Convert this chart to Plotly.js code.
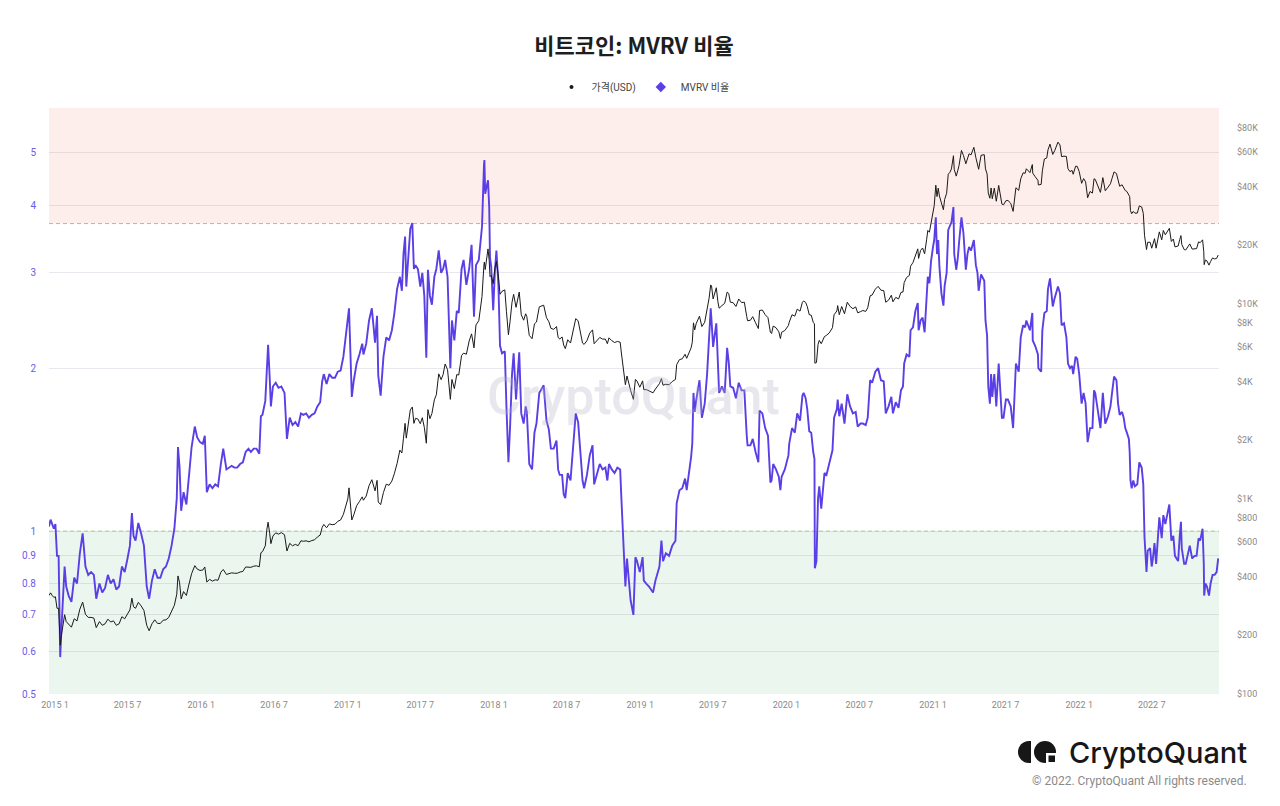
<!DOCTYPE html>
<html>
<head>
<meta charset="utf-8">
<script src="https://cdn.plot.ly/plotly-3.0.1.min.js"></script>
<style>
html,body{margin:0;padding:0;background:#fff;}
#chart{width:1280px;height:806px;}
</style>
</head>
<body>
<div id="chart"></div>
<script>
// ---------- DATA ----------
const dates = [
'2014-12-17','2014-12-21','2014-12-25','2014-12-29','2015-01-02','2015-01-06','2015-01-10','2015-01-14','2015-01-17','2015-01-21','2015-01-25','2015-01-29',
'2015-02-04','2015-02-11','2015-02-18','2015-02-25','2015-03-04','2015-03-11','2015-03-18','2015-03-25','2015-04-01','2015-04-08','2015-04-14','2015-04-22','2015-04-29',
'2015-05-06','2015-05-13','2015-05-20','2015-05-27','2015-06-03','2015-06-10','2015-06-17','2015-06-24','2015-07-01','2015-07-07','2015-07-12','2015-07-16','2015-07-21','2015-07-28',
'2015-08-04','2015-08-11','2015-08-18','2015-08-24','2015-08-31','2015-09-07','2015-09-14','2015-09-21','2015-09-28','2015-10-05','2015-10-12','2015-10-19','2015-10-26',
'2015-11-01','2015-11-04','2015-11-08','2015-11-12','2015-11-18','2015-11-25','2015-12-01','2015-12-08','2015-12-16','2015-12-22','2015-12-29',
'2016-01-05','2016-01-10','2016-01-15','2016-01-22','2016-01-29','2016-02-05','2016-02-12','2016-02-19','2016-02-25','2016-03-04','2016-03-10','2016-03-17','2016-03-24','2016-03-31',
'2016-04-07','2016-04-14','2016-04-21','2016-04-28','2016-05-04','2016-05-11','2016-05-18','2016-05-25','2016-05-29',
'2016-06-02','2016-06-09','2016-06-13','2016-06-16','2016-06-20','2016-06-23','2016-06-28','2016-07-05','2016-07-12','2016-07-19','2016-07-27',
'2016-08-02','2016-08-09','2016-08-16','2016-08-23','2016-08-30','2016-09-06','2016-09-12','2016-09-19','2016-09-26','2016-10-03','2016-10-10','2016-10-17','2016-10-24','2016-10-29',
'2016-11-02','2016-11-09','2016-11-16','2016-11-23','2016-11-30','2016-12-07','2016-12-14','2016-12-21','2016-12-27',
'2017-01-01','2017-01-04','2017-01-08','2017-01-11','2017-01-16','2017-01-23','2017-01-30','2017-02-06','2017-02-09','2017-02-16','2017-02-23',
'2017-03-02','2017-03-10','2017-03-15','2017-03-18','2017-03-24','2017-03-31','2017-04-07','2017-04-14','2017-04-21','2017-04-27',
'2017-05-04','2017-05-11','2017-05-16','2017-05-20','2017-05-24','2017-05-27','2017-06-01','2017-06-06','2017-06-11','2017-06-15','2017-06-19','2017-06-25',
'2017-07-01','2017-07-06','2017-07-11','2017-07-16','2017-07-20','2017-07-25','2017-07-30','2017-08-05','2017-08-10','2017-08-16','2017-08-22','2017-08-27',
'2017-09-01','2017-09-07','2017-09-14','2017-09-18','2017-09-24','2017-09-30','2017-10-05','2017-10-12','2017-10-17','2017-10-24','2017-10-31',
'2017-11-06','2017-11-12','2017-11-17','2017-11-24','2017-11-29','2017-12-02','2017-12-07','2017-12-08','2017-12-10','2017-12-13','2017-12-17','2017-12-20','2017-12-22','2017-12-25','2017-12-30',
'2018-01-03','2018-01-07','2018-01-12','2018-01-16','2018-01-21','2018-01-28','2018-02-01','2018-02-06','2018-02-10','2018-02-15','2018-02-19','2018-02-25',
'2018-03-05','2018-03-10','2018-03-16','2018-03-21','2018-03-24','2018-03-30','2018-04-06','2018-04-12','2018-04-17','2018-04-24','2018-05-05','2018-05-12','2018-05-18','2018-05-23','2018-05-30',
'2018-06-06','2018-06-10','2018-06-14','2018-06-20','2018-06-24','2018-06-28','2018-07-04','2018-07-11','2018-07-18','2018-07-24','2018-07-30','2018-08-06','2018-08-10','2018-08-14','2018-08-21','2018-08-28',
'2018-09-04','2018-09-08','2018-09-15','2018-09-22','2018-09-29','2018-10-06','2018-10-11','2018-10-15','2018-10-22','2018-10-29',
'2018-11-05','2018-11-12','2018-11-15','2018-11-19','2018-11-20','2018-11-25','2018-11-29','2018-12-03','2018-12-08','2018-12-15','2018-12-20','2018-12-24','2018-12-31',
'2019-01-07','2019-01-10','2019-01-16','2019-01-23','2019-02-02','2019-02-08','2019-02-18','2019-02-23','2019-02-27','2019-03-06','2019-03-14','2019-03-22','2019-03-30',
'2019-04-02','2019-04-09','2019-04-16','2019-04-23','2019-04-27','2019-05-08','2019-05-11','2019-05-14','2019-05-17','2019-05-21','2019-05-29',
'2019-06-04','2019-06-11','2019-06-17','2019-06-22','2019-06-26','2019-06-28','2019-07-02','2019-07-10','2019-07-14','2019-07-17','2019-07-24','2019-07-31',
'2019-08-06','2019-08-10','2019-08-14','2019-08-21','2019-08-28','2019-09-04','2019-09-11','2019-09-18','2019-09-24','2019-09-26',
'2019-10-03','2019-10-09','2019-10-16','2019-10-23','2019-10-26','2019-11-02','2019-11-09','2019-11-16','2019-11-22','2019-11-25','2019-11-29','2019-12-06','2019-12-13','2019-12-17','2019-12-20','2019-12-28',
'2020-01-06','2020-01-08','2020-01-15','2020-01-22','2020-01-28','2020-02-04','2020-02-10','2020-02-13','2020-02-18','2020-02-22','2020-02-27',
'2020-03-03','2020-03-08','2020-03-11','2020-03-12','2020-03-16','2020-03-20','2020-03-23','2020-03-28','2020-04-05','2020-04-10','2020-04-17','2020-04-25','2020-04-29',
'2020-05-06','2020-05-08','2020-05-12','2020-05-18','2020-05-25','2020-06-01','2020-06-08','2020-06-15','2020-06-22','2020-06-27','2020-07-04','2020-07-10','2020-07-17','2020-07-22','2020-07-28',
'2020-08-02','2020-08-10','2020-08-17','2020-08-24','2020-08-31','2020-09-05','2020-09-12','2020-09-19','2020-09-23','2020-09-30','2020-10-07','2020-10-13','2020-10-18','2020-10-21','2020-10-27',
'2020-11-03','2020-11-06','2020-11-12','2020-11-18','2020-11-24','2020-11-26','2020-12-01','2020-12-06','2020-12-11','2020-12-16','2020-12-19','2020-12-23','2020-12-27',
'2021-01-01','2021-01-04','2021-01-08','2021-01-11','2021-01-14','2021-01-17','2021-01-22','2021-01-27','2021-01-30','2021-02-04','2021-02-08','2021-02-12','2021-02-16','2021-02-21','2021-02-23','2021-02-28',
'2021-03-04','2021-03-07','2021-03-13','2021-03-18','2021-03-24','2021-03-28','2021-04-01','2021-04-06','2021-04-13','2021-04-18','2021-04-22','2021-04-25',
'2021-05-01','2021-05-09','2021-05-12','2021-05-16','2021-05-19','2021-05-23','2021-05-26','2021-05-29','2021-06-03','2021-06-08','2021-06-14','2021-06-18','2021-06-22','2021-06-26',
'2021-07-02','2021-07-07','2021-07-14','2021-07-20','2021-07-24','2021-07-27','2021-08-03','2021-08-08','2021-08-14','2021-08-19','2021-08-22','2021-08-31',
'2021-09-06','2021-09-07','2021-09-13','2021-09-20','2021-09-21','2021-09-28','2021-10-01','2021-10-06','2021-10-12','2021-10-15','2021-10-20','2021-10-24','2021-10-27',
'2021-11-01','2021-11-09','2021-11-14','2021-11-18','2021-11-24','2021-11-30','2021-12-04','2021-12-09','2021-12-14','2021-12-17','2021-12-23','2021-12-27',
'2022-01-01','2022-01-07','2022-01-12','2022-01-17','2022-01-22','2022-01-28','2022-02-03','2022-02-07','2022-02-10','2022-02-18','2022-02-23',
'2022-03-01','2022-03-07','2022-03-14','2022-03-20','2022-03-24','2022-03-29','2022-04-04','2022-04-08','2022-04-12','2022-04-18','2022-04-22','2022-04-26','2022-04-30',
'2022-05-05','2022-05-07','2022-05-09','2022-05-12','2022-05-16','2022-05-20','2022-05-26','2022-05-31','2022-06-06','2022-06-10','2022-06-13','2022-06-18','2022-06-21','2022-06-27',
'2022-07-01','2022-07-04','2022-07-08','2022-07-12','2022-07-18','2022-07-20','2022-07-26','2022-07-30','2022-08-04','2022-08-10','2022-08-14','2022-08-19','2022-08-24','2022-08-28',
'2022-09-05','2022-09-09','2022-09-12','2022-09-14','2022-09-20','2022-09-24','2022-09-29','2022-10-04','2022-10-10','2022-10-16','2022-10-21','2022-10-26','2022-10-30',
'2022-11-05','2022-11-08','2022-11-09','2022-11-12','2022-11-16','2022-11-21','2022-11-25','2022-11-30','2022-12-05','2022-12-10','2022-12-14'
];

const priceUsd = [
320,330,320,313,315,275,275,178,200,228,255,235,
227,220,243,237,272,296,256,247,247,245,219,235,225,
229,242,234,237,225,229,249,243,257,270,310,280,275,295,
283,268,225,211,229,240,230,230,239,240,247,264,285,
325,403,372,307,335,320,362,414,455,437,430,
432,448,375,387,379,385,383,421,435,410,415,418,416,416,
422,425,448,449,446,452,454,449,530,
537,575,700,760,665,590,645,670,660,672,655,
541,592,575,585,576,610,607,610,603,612,617,638,653,715,
740,712,745,738,742,768,780,834,930,
1000,1140,905,780,830,923,970,1025,985,1035,1170,
1255,1100,1245,965,935,1080,1190,1175,1235,1345,
1520,1780,1720,2050,2440,2050,2400,2860,2960,2440,2590,2570,
2430,2610,2330,1930,2870,2580,2740,3220,3420,4380,4090,4350,
4920,4600,3240,4100,3680,4340,4320,5430,5590,5520,6450,
7020,5950,7800,8200,9880,10900,16000,16400,15000,16400,19140,16700,13800,14000,12700,
15160,16500,13900,11200,11600,11800,9170,6950,8100,10200,11200,9600,
11500,8800,8250,8900,8600,6900,6630,7900,8070,9650,9850,8500,8100,7500,7400,
7650,6750,6600,6770,6150,5900,6550,6300,7380,8400,8200,7000,6300,6200,6480,7080,
7360,6250,6520,6730,6600,6600,6250,6700,6480,6340,
6420,6360,5600,4800,4450,3850,4270,3880,3600,3240,4100,4020,3740,
4030,3630,3640,3580,3500,3660,3900,4140,3830,3870,3850,4000,4100,
4880,5180,5230,5520,5260,5950,6350,8000,7350,7960,8650,
7650,8050,9300,10700,12500,12400,10600,12100,10250,9500,9800,10080,
11500,11300,10200,10150,9700,10600,10160,10200,8600,8200,
8240,8600,8000,7470,9250,9300,8800,8500,7150,7050,7700,7550,7200,6640,7150,7300,
7750,8050,8800,8650,9400,9180,10200,10350,10180,9700,8800,
8750,8040,7900,4970,5000,6200,6500,6250,6800,6900,7100,7550,8800,
9200,9800,8800,9700,8900,10200,9700,9450,9650,9000,9130,9250,9150,9550,11000,
11100,11900,12300,11750,11700,10200,10450,11080,10250,10800,10600,11450,11500,12850,13650,
14000,15600,16300,17800,19150,17100,18800,19350,18050,21300,23800,23300,26300,
29300,31900,40600,35500,39200,35800,32900,30400,34300,36900,46200,47200,49200,57500,48900,45200,
48400,51200,61200,57700,52300,55900,58800,58100,63500,56200,51700,49000,
57800,58200,49200,46400,37000,34800,39300,34600,39200,33600,40500,35800,32500,32200,
33800,33900,32800,29800,34300,39400,38200,43800,47000,46700,49300,47100,
51800,46800,44900,43000,40700,41000,48100,55300,56000,61600,65900,61100,58400,
61200,67500,65300,56900,57200,57000,49300,47600,48400,46200,50800,50700,
47700,41500,43900,42200,35000,37700,37000,43800,43500,40000,37300,
44400,38000,39700,41300,44000,47500,46600,42800,40100,40800,39700,38100,37700,
36500,35500,30100,29000,29800,29200,29200,31800,31400,29100,22500,19000,20700,20700,
19300,20200,21600,19300,22400,23400,21300,23800,22600,23900,24400,20900,21500,19600,
19800,21400,22400,20200,19000,18900,19600,20300,19100,19200,19200,20800,20600,
21300,18500,15900,16800,16600,15800,16500,17200,17000,17100,17800
];

const mvrvRatio = [
1.02,1.05,1.03,1.01,1.03,0.90,0.90,0.585,0.66,0.76,0.86,0.79,
0.76,0.74,0.82,0.80,0.91,0.99,0.86,0.83,0.84,0.83,0.75,0.80,0.77,
0.785,0.83,0.80,0.815,0.78,0.79,0.86,0.84,0.89,0.94,1.08,0.98,0.96,1.035,
0.99,0.94,0.79,0.75,0.81,0.85,0.82,0.82,0.85,0.86,0.89,0.94,1.01,
1.15,1.43,1.31,1.09,1.18,1.12,1.26,1.43,1.56,1.49,1.46,
1.45,1.50,1.18,1.22,1.20,1.22,1.21,1.33,1.42,1.30,1.31,1.32,1.31,1.31,
1.33,1.34,1.40,1.42,1.40,1.42,1.42,1.39,1.63,
1.64,1.74,2.08,2.21,1.92,1.70,1.85,1.88,1.84,1.85,1.80,
1.48,1.62,1.57,1.59,1.56,1.65,1.64,1.65,1.62,1.64,1.65,1.70,1.73,1.89,
1.95,1.87,1.95,1.92,1.92,1.97,1.98,2.10,2.33,
2.47,2.58,2.10,1.77,1.90,2.04,2.12,2.22,2.12,2.22,2.45,
2.58,2.23,2.50,1.94,1.78,2.10,2.28,2.25,2.35,2.52,
2.80,2.95,2.78,3.25,3.50,2.83,3.25,3.62,3.71,3.05,3.10,3.05,
2.83,3.00,2.72,2.09,3.04,2.72,2.62,2.95,3.05,3.30,3.00,3.05,
3.17,2.95,2.00,2.45,2.25,2.55,2.53,3.05,3.17,2.85,3.05,
3.38,2.49,3.10,3.17,3.55,3.65,4.75,4.85,4.20,4.30,4.45,3.97,3.20,3.08,2.56,
3.00,3.30,2.85,2.20,2.13,2.15,1.70,1.34,1.55,1.95,2.13,1.75,
2.14,1.65,1.58,1.70,1.66,1.33,1.30,1.52,1.58,1.80,1.86,1.60,1.54,1.42,1.42,
1.47,1.30,1.27,1.27,1.17,1.15,1.28,1.24,1.43,1.65,1.59,1.36,1.24,1.20,1.27,1.38,
1.44,1.22,1.27,1.33,1.30,1.31,1.24,1.33,1.30,1.28,
1.31,1.30,1.15,0.98,0.90,0.79,0.89,0.81,0.745,0.70,0.895,0.88,0.84,
0.895,0.81,0.80,0.79,0.77,0.81,0.86,0.96,0.88,0.91,0.90,0.94,0.96,
1.125,1.19,1.20,1.25,1.19,1.37,1.45,1.80,1.66,1.75,1.90,
1.62,1.72,1.95,2.25,2.58,2.45,2.19,2.42,2.05,1.80,1.85,1.80,
2.18,2.05,1.85,1.84,1.76,1.88,1.82,1.82,1.50,1.44,
1.44,1.48,1.40,1.34,1.67,1.65,1.55,1.50,1.23,1.24,1.33,1.30,1.26,1.19,1.26,1.30,
1.38,1.45,1.55,1.52,1.65,1.60,1.78,1.80,1.76,1.68,1.53,
1.52,1.40,1.36,0.854,0.88,1.15,1.21,1.10,1.28,1.27,1.34,1.41,1.62,
1.68,1.75,1.63,1.72,1.58,1.79,1.70,1.65,1.66,1.56,1.58,1.58,1.57,1.62,1.90,
1.88,1.97,2.00,1.90,1.89,1.65,1.70,1.77,1.65,1.73,1.69,1.82,1.85,2.04,2.12,
2.10,2.35,2.38,2.55,2.64,2.35,2.45,2.48,2.33,2.70,2.95,2.87,3.15,
3.35,3.45,3.80,3.25,3.45,3.08,2.75,2.61,2.84,3.00,3.60,3.65,3.72,3.97,3.25,3.04,
3.20,3.41,3.80,3.55,3.04,3.25,3.35,3.30,3.45,3.10,3.00,2.78,
2.98,2.90,2.45,2.30,1.85,1.72,1.95,1.77,1.95,1.70,2.04,1.82,1.62,1.62,
1.75,1.75,1.70,1.55,1.80,2.04,1.97,2.28,2.40,2.38,2.45,2.35,
2.53,2.25,2.20,2.12,2.00,1.97,2.35,2.53,2.55,2.80,2.93,2.70,2.60,
2.70,2.83,2.75,2.40,2.42,2.28,2.04,2.00,2.02,1.95,2.10,2.08,
1.95,1.72,1.80,1.72,1.46,1.55,1.55,1.82,1.80,1.65,1.55,
1.80,1.58,1.63,1.70,1.80,1.93,1.90,1.72,1.64,1.66,1.62,1.55,1.52,
1.48,1.40,1.24,1.20,1.24,1.21,1.22,1.34,1.31,1.22,0.975,0.84,0.92,0.93,
0.86,0.89,0.95,0.87,1.00,1.06,0.97,1.07,1.03,1.09,1.12,0.96,0.98,0.90,
0.88,0.98,1.04,0.93,0.87,0.87,0.91,0.94,0.89,0.90,0.90,0.97,0.96,
1.01,0.87,0.76,0.80,0.79,0.76,0.80,0.83,0.83,0.84,0.89
];

const xRange = ['2014-12-17', '2022-12-16'];
const mvrvRange = [0.5, 6.05];
const priceRange = [100, 101000];
const overvaluedZone = [3.7, 6.05];
const undervaluedZone = [0.5, 1];

const mvrvTicks = [0.5, 0.6, 0.7, 0.8, 0.9, 1, 2, 3, 4, 5];
const mvrvTickText = ['0.5', '0.6', '0.7', '0.8', '0.9', '1', '2', '3', '4', '5'];
const priceTicks = [100, 200, 400, 600, 800, 1000, 2000, 4000, 6000, 8000, 10000, 20000, 40000, 60000, 80000];
const priceTickText = ['$100', '$200', '$400', '$600', '$800', '$1K', '$2K', '$4K', '$6K', '$8K', '$10K', '$20K', '$40K', '$60K', '$80K'];

const seriesNames = ['가격(USD)', 'MVRV 비율'];

if (dates.length !== priceUsd.length || dates.length !== mvrvRatio.length) {
  throw new Error('length mismatch ' + dates.length + ' ' + priceUsd.length + ' ' + mvrvRatio.length);
}

// ---------- STYLE ----------
const PURPLE = '#5a3fe6';
const BLACK = '#1a1a1a';
const FONT = "Roboto, 'Noto Sans CJK KR', sans-serif";

// plot box in pixels (for logo decoration)
const PL = 49, PR = 1219, PT = 108, PB = 694;
const PX = x => (x - PL) / (PR - PL);
const PY = y => (PB - y) / (PB - PT);

const traces = [
  {
    x: [xRange[0], xRange[1], xRange[1], xRange[0], xRange[0]],
    y: [overvaluedZone[0], overvaluedZone[0], overvaluedZone[1], overvaluedZone[1], overvaluedZone[0]],
    type: 'scatter', mode: 'lines', fill: 'toself',
    fillcolor: 'rgba(236,96,80,0.11)', line: {width: 0},
    hoverinfo: 'skip', showlegend: false, yaxis: 'y'
  },
  {
    x: [xRange[0], xRange[1], xRange[1], xRange[0], xRange[0]],
    y: [undervaluedZone[0], undervaluedZone[0], undervaluedZone[1], undervaluedZone[1], undervaluedZone[0]],
    type: 'scatter', mode: 'lines', fill: 'toself',
    fillcolor: 'rgba(60,170,90,0.10)', line: {width: 0},
    hoverinfo: 'skip', showlegend: false, yaxis: 'y'
  },
  {
    x: xRange, y: [overvaluedZone[0], overvaluedZone[0]],
    type: 'scatter', mode: 'lines',
    line: {color: '#ef9c94', width: 1, dash: '4px,3px'},
    hoverinfo: 'skip', showlegend: false, yaxis: 'y'
  },
  {
    x: xRange, y: [undervaluedZone[1], undervaluedZone[1]],
    type: 'scatter', mode: 'lines',
    line: {color: '#9ed39a', width: 1, dash: '4px,3px'},
    hoverinfo: 'skip', showlegend: false, yaxis: 'y'
  },
  {
    x: dates, y: mvrvRatio, type: 'scatter', mode: 'lines',
    line: {color: PURPLE, width: 1.9}, name: seriesNames[1],
    showlegend: false, yaxis: 'y', hoverinfo: 'skip'
  },
  {
    x: dates, y: priceUsd, type: 'scatter', mode: 'lines',
    line: {color: BLACK, width: 1}, name: seriesNames[0],
    showlegend: false, yaxis: 'y2', hoverinfo: 'skip'
  },
  {
    x: [null], y: [null], type: 'scatter', mode: 'markers', name: seriesNames[0],
    marker: {symbol: 'circle', size: 4, color: BLACK}, yaxis: 'y2', showlegend: true
  },
  {
    x: [null], y: [null], type: 'scatter', mode: 'markers', name: seriesNames[1],
    marker: {symbol: 'diamond', size: 8, color: PURPLE}, yaxis: 'y', showlegend: true
  }
];

const layout = {
  width: 1280, height: 806,
  margin: {l: PL, r: 1280 - PR, t: PT, b: 806 - PB, pad: 0},
  paper_bgcolor: '#ffffff', plot_bgcolor: '#ffffff',
  font: {family: FONT, color: '#444'},
  title: {
    text: '비트코인: MVRV 비율',
    font: {family: "'Noto Sans CJK KR', sans-serif", size: 22, color: '#1e1e1e', weight: 700},
    x: 0.5, xanchor: 'center', xref: 'paper', y: 1 - 46 / 806, yref: 'container', yanchor: 'middle'
  },
  showlegend: true,
  legend: {
    orientation: 'h', x: PX(643), xanchor: 'center', y: PY(87), yanchor: 'middle',
    font: {size: 10, color: '#444', family: FONT}, itemwidth: 30, traceorder: 'normal',
    bgcolor: 'rgba(0,0,0,0)'
  },
  xaxis: {
    type: 'date', range: xRange, tickformat: '%Y %-m', dtick: 'M6', tick0: '2015-01-01',
    showgrid: false, zeroline: false, showline: false, ticks: '',
    tickfont: {size: 9, color: '#8a8a8a'}, ticklabelstandoff: 4
  },
  yaxis: {
    type: 'log', range: [Math.log10(mvrvRange[0]), Math.log10(mvrvRange[1])],
    tickmode: 'array', tickvals: mvrvTicks, ticktext: mvrvTickText,
    tickfont: {size: 10, color: '#6c5ce7'}, gridcolor: '#e8e8ef', gridwidth: 1,
    zeroline: false, showline: false, ticks: '', ticklabelstandoff: 12
  },
  yaxis2: {
    type: 'log', overlaying: 'y', side: 'right',
    range: [Math.log10(priceRange[0]), Math.log10(priceRange[1])],
    tickmode: 'array', tickvals: priceTicks, ticktext: priceTickText,
    tickfont: {size: 9, color: '#8a8a8a'}, showgrid: false,
    zeroline: false, showline: false, ticks: '', ticklabelstandoff: 17
  },
  annotations: [
    {
      text: 'CryptoQuant', xref: 'paper', yref: 'paper', x: PX(633), y: PY(396),
      xanchor: 'center', yanchor: 'middle', showarrow: false,
      font: {family: 'Roboto, sans-serif', size: 52, color: 'rgba(175,175,195,0.30)', weight: 500}
    },
    {
      text: 'CryptoQuant', xref: 'paper', yref: 'paper', x: PX(1249), y: PY(752),
      xanchor: 'right', yanchor: 'middle', showarrow: false,
      font: {family: "Inter, 'Open Sans', sans-serif", size: 29, color: '#171717', weight: 500}
    },
    {
      text: '© 2022. CryptoQuant All rights reserved.', xref: 'paper', yref: 'paper',
      x: PX(1249), y: PY(781), xanchor: 'right', yanchor: 'middle', showarrow: false,
      font: {family: 'Roboto, sans-serif', size: 12, color: '#8a8a8a'}
    }
  ],
  shapes: [
    {
      type: 'path', xref: 'paper', yref: 'paper', fillcolor: '#171717', line: {width: 0},
      path: 'M ' + PX(1031) + ',' + PY(741) + ' L ' + PX(1029) + ',' + PY(741) +
            ' C ' + PX(1022.6) + ',' + PY(741) + ' ' + PX(1018) + ',' + PY(746) + ' ' + PX(1018) + ',' + PY(752) +
            ' C ' + PX(1018) + ',' + PY(758) + ' ' + PX(1022.6) + ',' + PY(763) + ' ' + PX(1029) + ',' + PY(763) +
            ' L ' + PX(1031) + ',' + PY(763) + ' Z'
    },
    {
      type: 'circle', xref: 'paper', yref: 'paper', fillcolor: '#171717', line: {width: 0},
      x0: PX(1034), x1: PX(1056), y0: PY(763), y1: PY(741)
    },
    {
      type: 'rect', xref: 'paper', yref: 'paper', fillcolor: '#ffffff', line: {width: 0},
      x0: PX(1046), x1: PX(1058), y0: PY(765), y1: PY(753)
    },
    {
      type: 'rect', xref: 'paper', yref: 'paper', fillcolor: '#171717', line: {width: 0},
      x0: PX(1048.5), x1: PX(1055), y0: PY(762), y1: PY(755.5)
    }
  ]
};

Plotly.newPlot('chart', traces, layout, {staticPlot: true, displayModeBar: false, responsive: false});
</script>
</body>
</html>
